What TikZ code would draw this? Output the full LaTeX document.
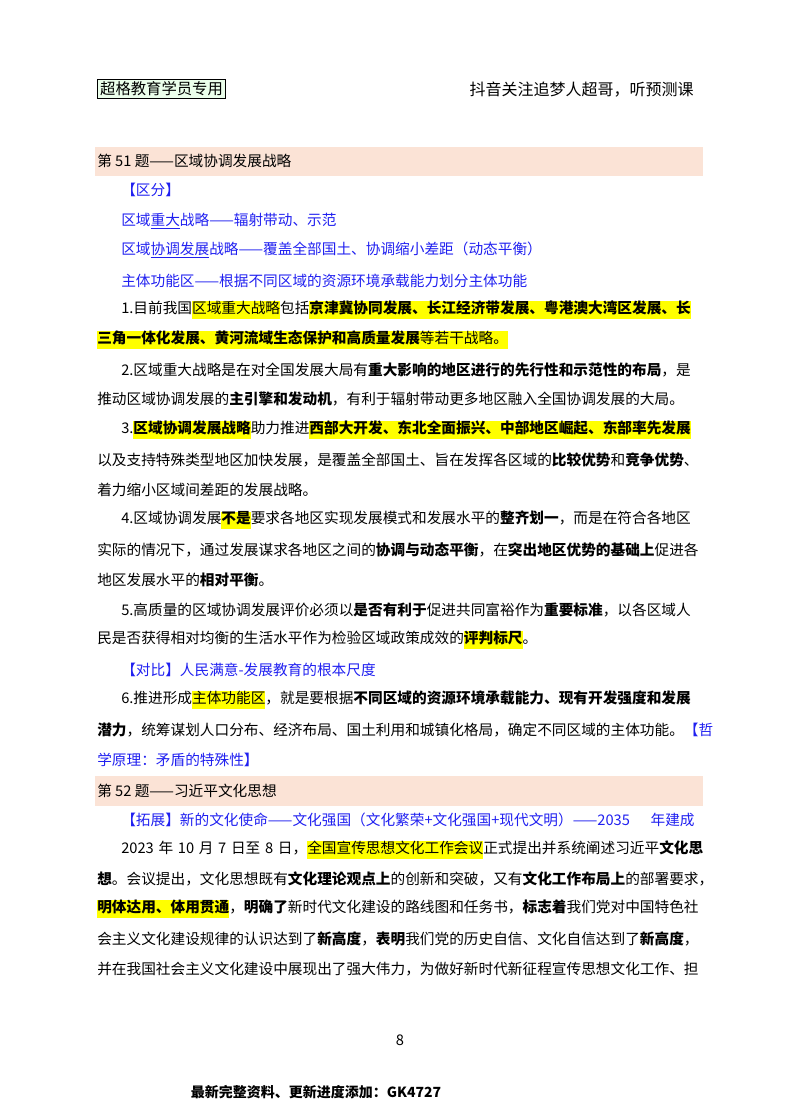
\documentclass[tikz,border=0pt]{standalone}
\usepackage{fontspec}
\setmainfont{Noto Sans CJK SC}
\XeTeXlinebreaklocale "zh"
\XeTeXlinebreakskip=0pt plus 3pt minus 0.6pt
\definecolor{hly}{HTML}{FFFF00}
\definecolor{bl}{HTML}{2020F0}
\definecolor{peach}{HTML}{FBE3D6}
\newcommand{\hl}[1]{{\setlength{\fboxsep}{0pt}\colorbox{hly}{\strut #1}}}
\newcommand{\fa}[1]{\makebox[436.5pt][s]{#1}}
\newcommand{\fb}[1]{\makebox[454.5pt][s]{#1}}
\newcommand{\ul}[1]{\underline{#1}}
\tikzset{ln/.style={anchor=west,inner sep=0pt,font=\fontsize{11}{13}\selectfont},
blu/.style={ln,text=bl}}
\begin{document}
\begin{tikzpicture}[x=0.75pt,y=-0.75pt]
\useasboundingbox (0,0) rectangle (800,1114);
\node[draw,thick,anchor=west,inner sep=2pt,fill=green!8,font=\fontsize{11.5}{13}\selectfont] (hd) at (97,89) {超格教育学员专用};
\node[ln,anchor=east,font=\fontsize{12}{13}\selectfont] (hr) at (694,90) {抖音关注追梦人超哥，听预测课};
\fill[peach] (95,147) rectangle (703,176);
\node[ln] (s1) at (97,161) {第 51 题——区域协调发展战略};
\node[blu] (b0) at (121,190) {【区分】};
\node[blu] (b1) at (121,221) {区域\ul{重大}战略——辐射带动、示范};
\node[blu] (b2) at (121,250) {区域\ul{协调发展}战略——覆盖全部国土、协调缩小差距（动态平衡）};
\node[blu] (b3) at (121,281) {主体功能区——根据不同区域的资源环境承载能力划分主体功能};
\node[ln] (p1a) at (121,310) {\fa{1.目前我国\hl{区域重大战略}包括\hl{\textbf{京津冀协同发展、长江经济带发展、粤港澳大湾区发展、长}}}};
\node[ln] (p1b) at (97,340) {\hl{\textbf{三角一体化发展、黄河流域生态保护和高质量发展}等若干战略。}};
\node[ln] (p2a) at (121,370) {\fa{2.区域重大战略是在对全国发展大局有\textbf{重大影响的地区进行的先行性和示范性的布局}，是}};
\node[ln] (p2b) at (97,399) {\makebox[442pt][s]{推动区域协调发展的\textbf{主引擎和发动机}，有利于辐射带动更多地区融入全国协调发展的大局。}};
\node[ln] (p3a) at (121,430) {\fa{3.\hl{\textbf{区域协调发展战略}}助力推进\hl{\textbf{西部大开发、东北全面振兴、中部地区崛起、东部率先发展}}}};
\node[ln] (p3b) at (97,460) {\fb{以及支持特殊类型地区加快发展，是覆盖全部国土、旨在发挥各区域的\textbf{比较优势}和\textbf{竞争优势}、}};
\node[ln] (p3c) at (97,490) {\makebox[161pt][s]{着力缩小区域间差距的发展战略。}};
\node[ln] (p4a) at (121,520) {\fa{4.区域协调发展\hl{\textbf{不是}}要求各地区实现发展模式和发展水平的\textbf{整齐划一}，而是在符合各地区}};
\node[ln] (p4b) at (97,550) {\fb{实际的情况下，通过发展谋求各地区之间的\textbf{协调与动态平衡}，在\textbf{突出地区优势的基础上}促进各}};
\node[ln] (p4c) at (97,580) {\makebox[110pt][s]{地区发展水平的\textbf{相对平衡}。}};
\node[ln] (p5a) at (121,610) {\fa{5.高质量的区域协调发展评价必须以\textbf{是否有利于}促进共同富裕作为\textbf{重要标准}，以各区域人}};
\node[ln] (p5b) at (97,640) {\makebox[299pt][s]{民是否获得相对均衡的生活水平作为检验区域政策成效的\hl{\textbf{评判标尺}}。}};
\node[blu] (b4) at (121,670) {\makebox[193pt][s]{【对比】人民满意-发展教育的根本尺度}};
\node[ln] (p6a) at (121,700) {\fa{6.推进形成\hl{主体功能区}，就是要根据\textbf{不同区域的资源环境承载能力、现有开发强度和发展}}};
\node[ln] (p6b) at (97,730) {\fb{\textbf{潜力}，统筹谋划人口分布、经济布局、国土利用和城镇化格局，确定不同区域的主体功能。\textcolor{bl}{【哲}}};
\node[blu] (p6c) at (97,760) {\makebox[116pt][s]{学原理：矛盾的特殊性】}};
\fill[peach] (95,776) rectangle (703,806);
\node[ln] (s2) at (97,791) {第 52 题——习近平文化思想};
\node[blu] (b5) at (121,820) {\makebox[430pt][s]{【拓展】新的文化使命——文化强国（文化繁荣+文化强国+现代文明）——2035 年建成}};
\node[ln] (q1) at (121,850) {\fa{2023 年 10 月 7 日至 8 日，\hl{全国宣传思想文化工作会议}正式提出并系统阐述习近平\textbf{文化思}}};
\node[ln] (q2) at (97,879) {\fb{\textbf{想}。会议提出，文化思想既有\textbf{文化理论观点上}的创新和突破，又有\textbf{文化工作布局上}的部署要求，}};
\node[ln] (q3) at (97,909) {\fb{\hl{\textbf{明体达用、体用贯通}}，\textbf{明确了}新时代文化建设的路线图和任务书，\textbf{标志着}我们党对中国特色社}};
\node[ln] (q4) at (97,939) {\fb{会主义文化建设规律的认识达到了\textbf{新高度}，\textbf{表明}我们党的历史自信、文化自信达到了\textbf{新高度}，}};
\node[ln] (q5) at (97,969) {\fb{并在我国社会主义文化建设中展现出了强大伟力，为做好新时代新征程宣传思想文化工作、担}};
\node[ln,anchor=center] (pg) at (400,1040) {8};
\node[ln,anchor=center,font=\fontsize{10.5}{12}\selectfont\bfseries] (ft) at (316,1092) {最新完整资料、更新进度添加：GK4727};
\end{tikzpicture}
\end{document}
